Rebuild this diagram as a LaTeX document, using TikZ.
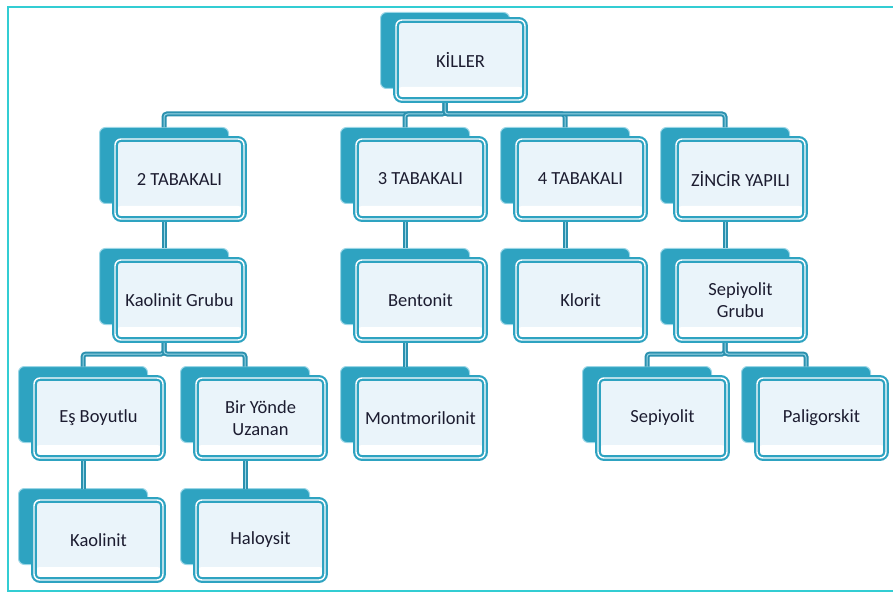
\documentclass[tikz,border=0pt]{standalone}
\usepackage{fontspec}
\setmainfont{Carlito}
\usetikzlibrary{calc}

\definecolor{tealfill}{HTML}{2EA3C1}
\definecolor{tealline}{HTML}{2B91AF}
\definecolor{tealedge}{HTML}{9AD6E6}
\definecolor{boxfill}{HTML}{EAF4FA}
\definecolor{framecol}{HTML}{33CDD3}
\definecolor{ink}{HTML}{1C1C30}

\tikzset{
  backbox/.style={draw=tealedge, line width=1pt, fill=tealfill, rounded corners=6pt,
    minimum width=129pt, minimum height=76pt, anchor=north west, inner sep=0pt, outer sep=0pt},
  frontbox/.style={draw=tealfill, double=white, double distance=1.4pt, line width=2.2pt,
    fill=boxfill, rounded corners=6pt, minimum width=129pt, minimum height=80pt,
    anchor=north west, inner sep=0pt, outer sep=0pt, align=center,
    font=\fontsize{18.5}{22}\selectfont, text=ink,
    path picture={\fill[white] (path picture bounding box.south west) rectangle
      ($(path picture bounding box.south east)+(0,-13)$);}},
  conn/.style={draw=tealline, double=tealedge, double distance=1pt, line width=2pt,
    rounded corners=3pt},
}

% one diagram entry: back plate first, front card later
\newcommand{\plate}[3]{\node[backbox] (b-#1) at (#2+0.5,#3+0.5) {};}
\newcommand{\card}[3][11.5]{\node[frontbox] (#2) at ($(b-#2.north west)+(15.5,#1)$) {#3};}

\begin{document}
\begin{tikzpicture}[x=1pt,y=-1pt]
\useasboundingbox (0,0) rectangle (893,593);

% outer frame
\draw[framecol, line width=2.5pt] (893,7) -- (8,7) -- (8,591) -- (893,591);

% back plates
\plate{killer}{380}{12}
\plate{tab2}{99}{127}
\plate{tab3}{340}{127}
\plate{tab4}{500}{127}
\plate{zincir}{660}{127}
\plate{kgrubu}{99}{248}
\plate{bentonit}{340}{248}
\plate{klorit}{500}{248}
\plate{sgrubu}{660}{248}
\plate{esb}{18}{366}
\plate{biryonde}{180}{366}
\plate{montmo}{340}{366}
\plate{sepiyolit}{582}{366}
\plate{paligor}{741}{366}
\plate{kaolinit}{18}{488}
\plate{haloysit}{180}{488}

% connectors
\foreach \c in {tab2,tab3,tab4,zincir}
  \draw[conn] (b-killer.south) -- (b-killer.south |- 0,114) -| (b-\c.north);
\draw[conn] (b-tab2.south) -- (b-kgrubu.north);
\draw[conn] (b-tab3.south) -- (b-bentonit.north);
\draw[conn] (b-tab4.south) -- (b-klorit.north);
\draw[conn] (b-zincir.south) -- (b-sgrubu.north);
\foreach \c in {esb,biryonde}
  \draw[conn] (b-kgrubu.south) -- (b-kgrubu.south |- 0,354) -| (b-\c.north);
\foreach \c in {sepiyolit,paligor}
  \draw[conn] (b-sgrubu.south) -- (b-sgrubu.south |- 0,354) -| (b-\c.north);
\draw[conn] (b-bentonit.south) -- (b-montmo.north);
\draw[conn] (b-esb.south) -- (b-kaolinit.north);
\draw[conn] (b-biryonde.south) -- (b-haloysit.north);

% front cards
\card[7.5]{killer}{KİLLER}
\card{tab2}{2 TABAKALI}
\card{tab3}{3 TABAKALI}
\card{tab4}{4 TABAKALI}
\card{zincir}{ZİNCİR YAPILI}
\card{kgrubu}{Kaolinit Grubu}
\card{bentonit}{Bentonit}
\card{klorit}{Klorit}
\card{sgrubu}{Sepiyolit\\Grubu}
\card{esb}{Eş Boyutlu}
\card{biryonde}{Bir Yönde\\Uzanan}
\card{montmo}{Montmorilonit}
\card{sepiyolit}{Sepiyolit}
\card{paligor}{Paligorskit}
\card{kaolinit}{Kaolinit}
\card{haloysit}{Haloysit}
\end{tikzpicture}
\end{document}
